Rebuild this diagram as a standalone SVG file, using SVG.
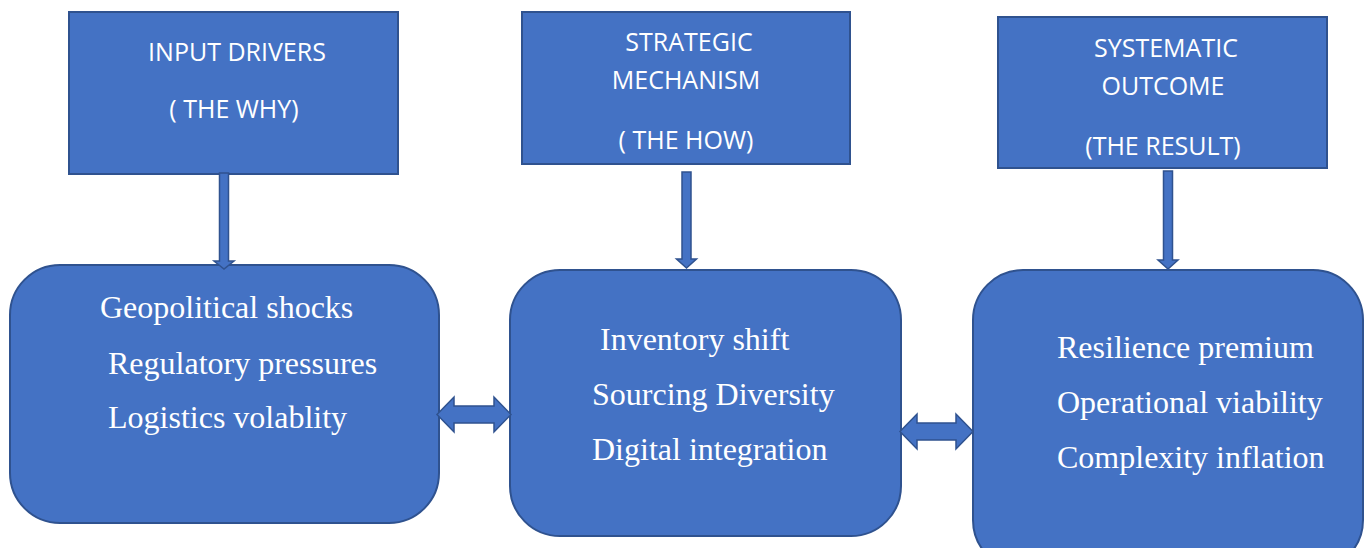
<svg xmlns="http://www.w3.org/2000/svg" width="1366" height="548" viewBox="0 0 1366 548">
  <style>
    .box { fill: #4472C4; stroke: #2F528F; stroke-width: 2; }
    .arrow { fill: #4472C4; stroke: #2F528F; stroke-width: 1.5; stroke-linejoin: miter; }
    .head { font-family: "Open Sans", "Liberation Sans", sans-serif; font-size: 25px; fill: #FFFFFF; text-anchor: middle; }
    .item { font-family: "Liberation Serif", "Times New Roman", serif; font-size: 32px; fill: #FFFFFF; }
  </style>
  <rect width="1366" height="548" fill="#FFFFFF"/>

  <!-- column headers -->
  <g id="input-drivers">
    <rect class="box" x="69" y="12" width="329" height="162"/>
    <text class="head" x="237" y="61">INPUT DRIVERS</text>
    <text class="head" x="234" y="118">( THE WHY)</text>
  </g>
  <g id="strategic-mechanism">
    <rect class="box" x="522" y="12" width="328" height="152"/>
    <text class="head" x="689" y="51">STRATEGIC</text>
    <text class="head" x="686" y="89">MECHANISM</text>
    <text class="head" x="686" y="149">( THE HOW)</text>
  </g>
  <g id="systematic-outcome">
    <rect class="box" x="998" y="17" width="329" height="151"/>
    <text class="head" x="1166" y="57">SYSTEMATIC</text>
    <text class="head" x="1163" y="95">OUTCOME</text>
    <text class="head" x="1163" y="155">(THE RESULT)</text>
  </g>

  <!-- detail panels -->
  <g id="drivers-list">
    <rect class="box" x="10" y="265" width="429" height="258" rx="50" ry="50"/>
    <text class="item" x="100" y="318">Geopolitical shocks</text>
    <text class="item" x="108" y="374">Regulatory pressures</text>
    <text class="item" x="108" y="428">Logistics volablity</text>
  </g>
  <g id="mechanism-list">
    <rect class="box" x="510" y="270" width="391" height="266" rx="50" ry="50"/>
    <text class="item" x="600" y="350">Inventory shift</text>
    <text class="item" x="592" y="405">Sourcing Diversity</text>
    <text class="item" x="592" y="460">Digital integration</text>
  </g>
  <g id="outcome-list">
    <rect class="box" x="973" y="270" width="390" height="300" rx="50" ry="50"/>
    <text class="item" x="1057" y="358">Resilience premium</text>
    <text class="item" x="1057" y="413">Operational viability</text>
    <text class="item" x="1057" y="468">Complexity inflation</text>
  </g>

  <!-- block arrows -->
  <g id="connectors">
    <polygon class="arrow" points="219.5,173 228.5,173 228.5,261 234,261 224,269 214,261 219.5,261"/>
    <polygon class="arrow" points="682,172 691,172 691,259 696.5,259 686.5,268 676.5,259 682,259"/>
    <polygon class="arrow" points="1163.5,171 1172.5,171 1172.5,260 1178,260 1168,269 1158,260 1163.5,260"/>
    <polygon class="arrow" points="437,414.5 454,397 454,406 494,406 494,397 511,414.5 494,432 494,423 454,423 454,432"/>
    <polygon class="arrow" points="900,431.5 917,414 917,423 956,423 956,414 973,431.5 956,449 956,440 917,440 917,449"/>
  </g>
</svg>
